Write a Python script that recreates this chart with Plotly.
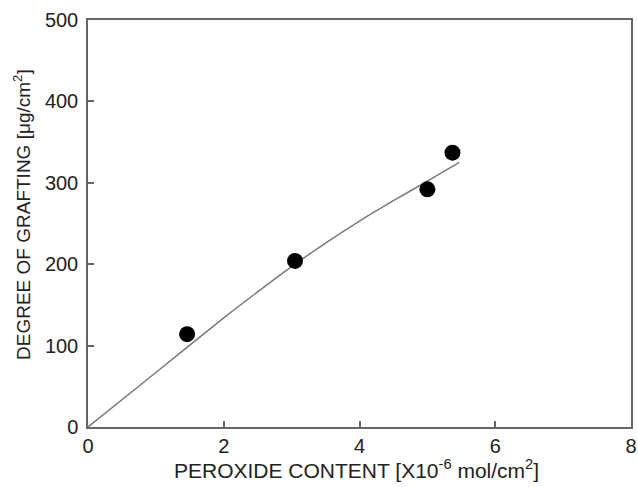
import plotly.graph_objects as go

# measured points
peroxide = [1.46, 3.05, 5.0, 5.37]
grafting = [114, 204, 292, 337]

# fitted curve
curve_x = [0, 1, 2, 2.5, 3, 3.5, 4, 4.5, 5, 5.47]
curve_y = [0, 67, 134, 166, 197, 226, 253, 278, 302, 325]

x_ticks = [0, 2, 4, 6, 8]
y_ticks = [0, 100, 200, 300, 400, 500]

x_title = "PEROXIDE CONTENT [X10<sup>-6</sup> mol/cm<sup>2</sup>]"
y_title = "DEGREE OF GRAFTING [μg/cm<sup>2</sup>]"

axis_col = "#666666"
font_family = "Liberation Sans, Arial, sans-serif"

fig = go.Figure()
fig.add_trace(go.Scatter(x=curve_x, y=curve_y, mode="lines",
                         line=dict(color="#7a7a7a", width=1.5, shape="spline", smoothing=0.8),
                         showlegend=False, hoverinfo="skip"))
fig.add_trace(go.Scatter(x=peroxide, y=grafting, mode="markers",
                         marker=dict(color="black", size=16),
                         showlegend=False))

fig.update_layout(
    width=638, height=487,
    margin=dict(l=88, r=7, t=20, b=60),
    paper_bgcolor="white", plot_bgcolor="white",
    font=dict(family=font_family, color="#222222"),
    xaxis=dict(range=[0, 8], tickvals=x_ticks, ticks="inside", ticklen=6,
               tickcolor=axis_col, tickwidth=1.5, automargin=False,
               showline=True, linecolor=axis_col, linewidth=1.5, mirror=True,
               showgrid=False, zeroline=False,
               tickfont=dict(size=20)),
    yaxis=dict(range=[0, 500], tickvals=y_ticks, ticks="inside", ticklen=6,
               tickcolor=axis_col, tickwidth=1.5, automargin=False,
               showline=True, linecolor=axis_col, linewidth=1.5, mirror=True,
               showgrid=False, zeroline=False, ticklabelstandoff=4,
               tickfont=dict(size=20)),
    annotations=[
        dict(text=x_title, xref="paper", yref="paper", x=0.495, y=0,
             xanchor="center", yanchor="middle", yshift=-42, showarrow=False,
             font=dict(size=21)),
        dict(text=y_title, xref="paper", yref="paper", x=0, y=0.521,
             xanchor="center", yanchor="middle", xshift=-66, showarrow=False,
             textangle=-90, font=dict(size=19)),
    ],
)

# remove the page's default body margin so the figure fills the window exactly
fig.write_html("out.html", config={"displayModeBar": False},
               post_script="document.body.style.margin='0';document.body.style.overflow='hidden';")
